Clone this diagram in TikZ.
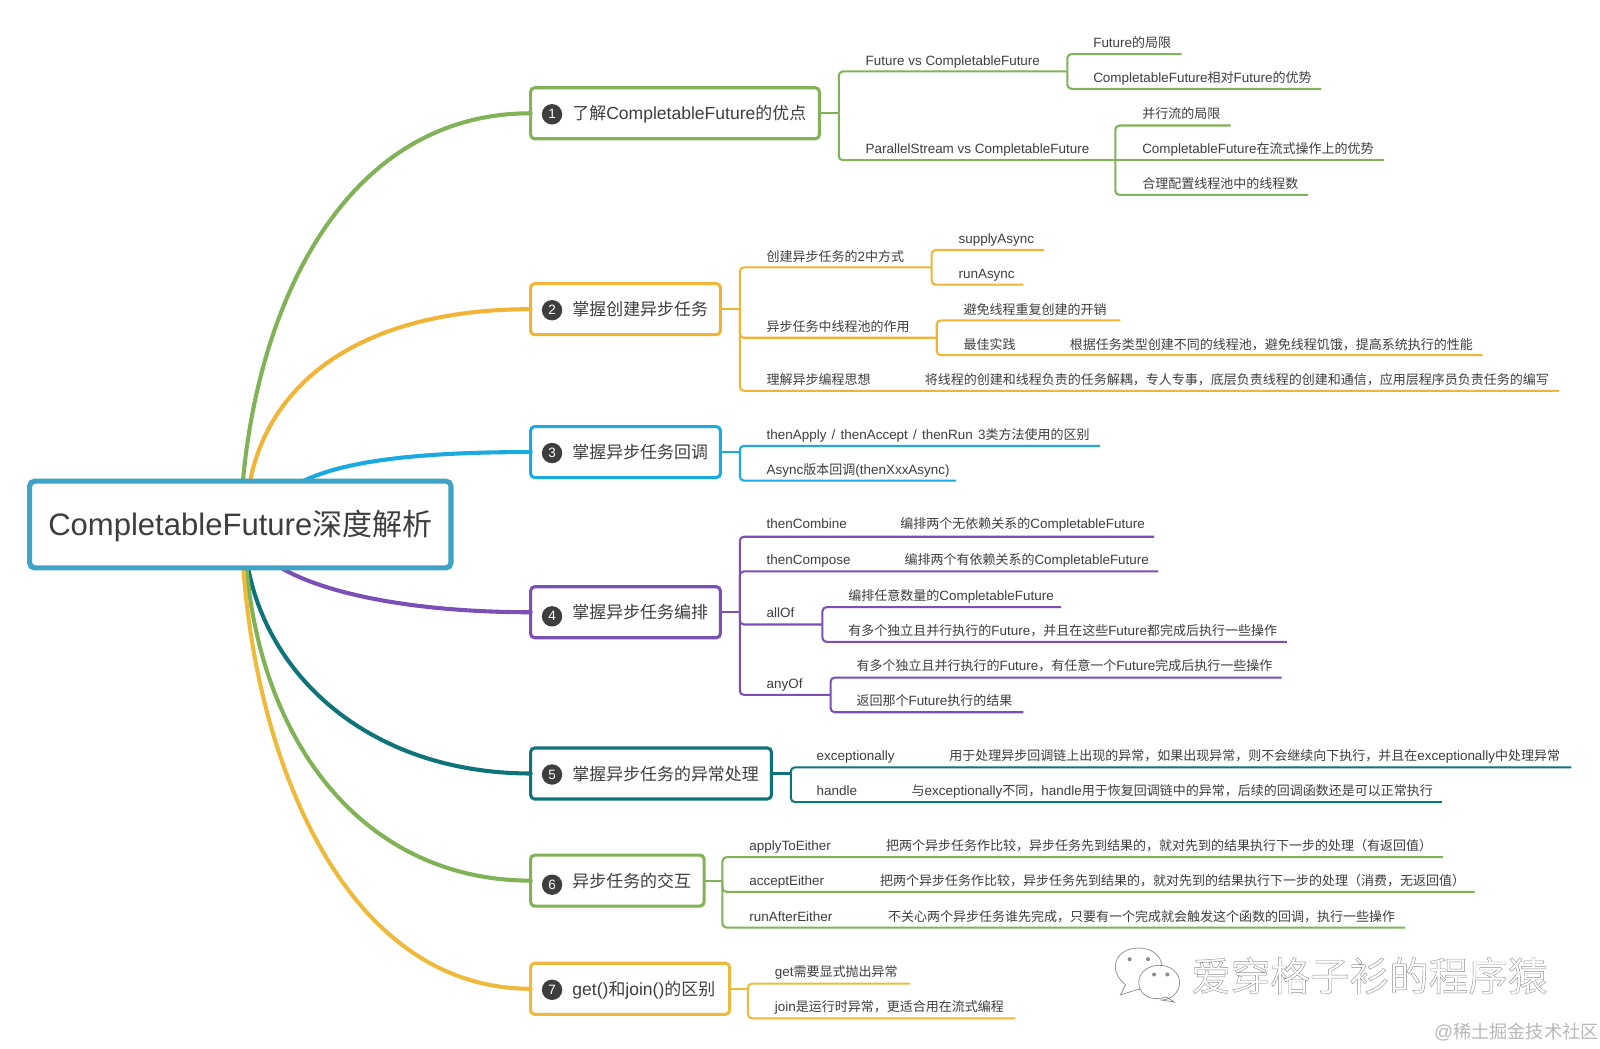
\documentclass[tikz,border=0pt]{standalone}
\usepackage{fontspec}
\setmainfont[Scale=1.035]{Liberation Sans}
\newfontfamily\cjk{Noto Sans CJK SC}
\newcount\cjkc
\XeTeXinterchartokenstate=1
\newXeTeXintercharclass\cjkclass
\cjkc="4E00 \loop\ifnum\cjkc<"A000 \XeTeXcharclass\cjkc=\cjkclass \advance\cjkc by 1 \repeat
\cjkc="3000 \loop\ifnum\cjkc<"3040 \XeTeXcharclass\cjkc=\cjkclass \advance\cjkc by 1 \repeat
\cjkc="FF00 \loop\ifnum\cjkc<"FFF0 \XeTeXcharclass\cjkc=\cjkclass \advance\cjkc by 1 \repeat
\XeTeXinterchartoks 0 \cjkclass={\cjk}
\XeTeXinterchartoks 4095 \cjkclass={\cjk}
\XeTeXinterchartoks \cjkclass 0={\rmfamily}
\XeTeXinterchartoks 4095 0={\rmfamily}
\definecolor{gr}{HTML}{82B257}
\definecolor{org}{HTML}{F1B437}
\definecolor{bl}{HTML}{1AA9E1}
\definecolor{pu}{HTML}{7A4FB6}
\definecolor{te}{HTML}{0F7479}
\definecolor{ye}{HTML}{EFB93B}
\definecolor{ink}{HTML}{3E3E3E}
\definecolor{rootc}{HTML}{3FA3C8}
\tikzset{
  rootbox/.style={draw=rootc,line width=2.5pt,rounded corners=2.5pt,fill=white,minimum width=206.5pt,minimum height=42.5pt,inner sep=0pt,text=ink,font=\fontsize{14.7}{17}\selectfont},
  topicbox/.style={draw=#1,line width=1.5pt,rounded corners=2pt,fill=white,minimum height=25pt,inner xsep=0pt,inner ysep=0pt,outer sep=0pt,anchor=west,align=left,text=ink,font=\fontsize{8.3}{10}\selectfont},
  numdot/.style={circle,fill=ink,minimum size=10pt,inner sep=0pt,text=white,font=\fontsize{6.4}{7}\selectfont},
  leaf/.style={anchor=base west,inner sep=0pt,yshift=-2.7pt,text=ink,font=\fontsize{6.37}{8}\selectfont},
  curve/.style={draw=#1,line width=2pt,line cap=round},
  trunk/.style={draw=#1,line width=1pt,rounded corners=2pt},
  wmark/.style={draw=black!45,line width=0.35pt,fill=white}
}
\newcommand\topichead[1]{\hspace*{20.5pt}\raisebox{-3.2pt}[0pt][0pt]{#1}}
\begin{document}
\begin{tikzpicture}[x=0.5pt,y=-0.5pt]
\useasboundingbox[fill=white] (0,0) rectangle (1568,1028);
% root and topics
\coordinate (r1) at (238,472);
\coordinate (r2) at (245,472);
\coordinate (r3) at (296,472);
\coordinate (r4) at (274.5,556);
\coordinate (r5) at (243,556);
\coordinate (r6) at (241.5,556);
\coordinate (r7) at (238.5,556);
\node[topicbox=gr,text width=141.5pt] (t1) at (520,111) {\topichead{了解CompletableFuture的优点}};
\node[topicbox=org,text width=93pt] (t2) at (520,303) {\topichead{掌握创建异步任务}};
\node[topicbox=bl,text width=93pt] (t3) at (520,443) {\topichead{掌握异步任务回调}};
\node[topicbox=pu,text width=93pt] (t4) at (520,600) {\topichead{掌握异步任务编排}};
\node[topicbox=te,text width=118pt] (t5) at (520,758) {\topichead{掌握异步任务的异常处理}};
\node[topicbox=gr,text width=85pt] (t6) at (520,863) {\topichead{异步任务的交互}};
\node[topicbox=ye,text width=97.5pt] (t7) at (520,969) {\topichead{get()和join()的区别}};
\node[numdot] (n1) at (541,112) {1};
\node[numdot] (n2) at (541,304) {2};
\node[numdot] (n3) at (541,444) {3};
\node[numdot] (n4) at (541,604) {4};
\node[numdot] (n5) at (541,759) {5};
\node[numdot] (n6) at (541,867) {6};
\node[numdot] (n7) at (541,970) {7};
\draw[curve=gr] (r1) .. controls (255,285) and (345,111) .. (t1.west);
\draw[curve=org] (r2) .. controls (265,370) and (360,303) .. (t2.west);
\draw[curve=bl] (r3) .. controls (340,450) and (420,443) .. (t3.west);
\draw[curve=pu] (r4) .. controls (320,583) and (410,600) .. (t4.west);
\draw[curve=te] (r5) .. controls (265,670) and (370,758) .. (t5.west);
\draw[curve=gr] (r6) .. controls (258,740) and (365,863) .. (t6.west);
\draw[curve=ye] (r7) .. controls (252,750) and (340,969) .. (t7.west);
\node[rootbox] (root) at (235.5,514) {\raisebox{-5.5pt}[0pt][0pt]{CompletableFuture深度解析}};
% topic 1
\coordinate (j1) at (822,111);
\coordinate (e1a) at (1046,70);
\coordinate (e1b) at (1093,157);
\coordinate (e1a1) at (1158,53);
\coordinate (e1a2) at (1295,87);
\coordinate (e1b1) at (1206,123);
\coordinate (e1b2) at (1356,157);
\coordinate (e1b3) at (1282,191);
\draw[trunk=gr] (t1.east) -- (j1);
\draw[trunk=gr] (j1) |- (e1a);
\draw[trunk=gr] (j1) |- (e1b);
\draw[trunk=gr] (e1a) |- (e1a1);
\draw[trunk=gr] (e1a) |- (e1a2);
\draw[trunk=gr] (e1b) |- (e1b1);
\draw[trunk=gr] (e1b) -- (e1b2);
\draw[trunk=gr] (e1b) |- (e1b3);
\node[leaf] (l1a) at (848,59) {Future vs CompletableFuture};
\node[leaf] (l1b) at (848,145) {ParallelStream vs CompletableFuture};
\node[leaf] (l1a1) at (1071,41) {Future的局限};
\node[leaf] (l1a2) at (1071,75) {CompletableFuture相对Future的优势};
\node[leaf] (l1b1) at (1119,111) {并行流的局限};
\node[leaf] (l1b2) at (1119,145) {CompletableFuture在流式操作上的优势};
\node[leaf] (l1b3) at (1119,179) {合理配置线程池中的线程数};
% topic 2
\coordinate (j2) at (725,303);
\coordinate (e2a) at (913,262);
\coordinate (e2b) at (918,331);
\coordinate (e2c) at (1528,383);
\coordinate (e2a1) at (1023,245);
\coordinate (e2a2) at (1003,279);
\coordinate (e2b1) at (1098,314);
\coordinate (e2b2) at (1453,348);
\draw[trunk=org] (t2.east) -- (j2);
\draw[trunk=org] (j2) |- (e2a);
\draw[trunk=org] (j2) |- (e2b);
\draw[trunk=org] (j2) |- (e2c);
\draw[trunk=org] (e2a) |- (e2a1);
\draw[trunk=org] (e2a) |- (e2a2);
\draw[trunk=org] (e2b) |- (e2b1);
\draw[trunk=org] (e2b) |- (e2b2);
\node[leaf] (l2a) at (751,251) {创建异步任务的2中方式};
\node[leaf] (l2b) at (751,319) {异步任务中线程池的作用};
\node[leaf] (l2c) at (751,371) {理解异步编程思想};
\node[leaf] (l2c1) at (906,371) {将线程的创建和线程负责的任务解耦，专人专事，底层负责线程的创建和通信，应用层程序员负责任务的编写};
\node[leaf] (l2a1) at (939,233) {supplyAsync};
\node[leaf] (l2a2) at (939,268) {runAsync};
\node[leaf] (l2b1) at (944,303) {避免线程重复创建的开销};
\node[leaf] (l2b2) at (944,337) {最佳实践};
\node[leaf] (l2b3) at (1048,337) {根据任务类型创建不同的线程池，避免线程饥饿，提高系统执行的性能};
% topic 3
\coordinate (j3) at (725,443);
\coordinate (e3a) at (1078,437);
\coordinate (e3b) at (937,471);
\draw[trunk=bl] (t3.east) -- (j3);
\draw[trunk=bl] (j3) |- (e3a);
\draw[trunk=bl] (j3) |- (e3b);
\node[leaf] (l3a) at (751,425) {thenApply\hspace{0.7pt} / \hspace{0.7pt}thenAccept\hspace{0.7pt} / \hspace{0.7pt}thenRun\hspace{0.7pt} 3类方法使用的区别};
\node[leaf] (l3b) at (751,460) {Async版本回调(thenXxxAsync)};
% topic 4
\coordinate (j4) at (725,600);
\coordinate (e4a) at (1131,526);
\coordinate (e4b) at (1135,560);
\coordinate (e4c) at (806,612);
\coordinate (e4d) at (814,681);
\coordinate (e4c1) at (1040,595);
\coordinate (e4c2) at (1261,629);
\coordinate (e4d1) at (1256,664);
\coordinate (e4d2) at (1003,698);
\draw[trunk=pu] (t4.east) -- (j4);
\draw[trunk=pu] (j4) |- (e4a);
\draw[trunk=pu] (j4) |- (e4b);
\draw[trunk=pu] (j4) |- (e4c);
\draw[trunk=pu] (j4) |- (e4d);
\draw[trunk=pu] (e4c) |- (e4c1);
\draw[trunk=pu] (e4c) |- (e4c2);
\draw[trunk=pu] (e4d) |- (e4d1);
\draw[trunk=pu] (e4d) |- (e4d2);
\node[leaf] (l4a) at (751,513) {thenCombine};
\node[leaf] (l4a1) at (882,513) {编排两个无依赖关系的CompletableFuture};
\node[leaf] (l4b) at (751,548) {thenCompose};
\node[leaf] (l4b1) at (886,548) {编排两个有依赖关系的CompletableFuture};
\node[leaf] (l4c) at (751,600) {allOf};
\node[leaf] (l4d) at (751,669) {anyOf};
\node[leaf] (l4c1) at (831,583) {编排任意数量的CompletableFuture};
\node[leaf] (l4c2) at (831,617) {有多个独立且并行执行的Future，并且在这些Future都完成后执行一些操作};
\node[leaf] (l4d1) at (839,652) {有多个独立且并行执行的Future，有任意一个Future完成后执行一些操作};
\node[leaf] (l4d2) at (839,686) {返回那个Future执行的结果};
% topic 5
\coordinate (j5) at (775,758);
\coordinate (e5a) at (1540,752);
\coordinate (e5b) at (1413,786);
\draw[trunk=te] (t5.east) -- (j5);
\draw[trunk=te] (j5) |- (e5a);
\draw[trunk=te] (j5) |- (e5b);
\node[leaf] (l5a) at (800,740) {exceptionally};
\node[leaf] (l5a1) at (930,740) {用于处理异步回调链上出现的异常，如果出现异常，则不会继续向下执行，并且在exceptionally中处理异常};
\node[leaf] (l5b) at (800,774) {handle};
\node[leaf] (l5b1) at (893,774) {与exceptionally不同，handle用于恢复回调链中的异常，后续的回调函数还是可以正常执行};
% topic 6
\coordinate (j6) at (708,863);
\coordinate (e6a) at (1414,840);
\coordinate (e6b) at (1445,874);
\coordinate (e6c) at (1377,909);
\draw[trunk=gr] (t6.east) -- (j6);
\draw[trunk=gr] (j6) |- (e6a);
\draw[trunk=gr] (j6) |- (e6b);
\draw[trunk=gr] (j6) |- (e6c);
\node[leaf] (l6a) at (734,828) {applyToEither};
\node[leaf] (l6a1) at (868,828) {把两个异步任务作比较，异步任务先到结果的，就对先到的结果执行下一步的处理（有返回值）};
\node[leaf] (l6b) at (734,862) {acceptEither};
\node[leaf] (l6b1) at (862,862) {把两个异步任务作比较，异步任务先到结果的，就对先到的结果执行下一步的处理（消费，无返回值）};
\node[leaf] (l6c) at (734,898) {runAfterEither};
\node[leaf] (l6c1) at (870,898) {不关心两个异步任务谁先完成，只要有一个完成就会触发这个函数的回调，执行一些操作};
% topic 7
\coordinate (j7) at (733,969);
\coordinate (e7a) at (892,964);
\coordinate (e7b) at (995,998);
\draw[trunk=ye] (t7.east) -- (j7);
\draw[trunk=ye] (j7) |- (e7a);
\draw[trunk=ye] (j7) |- (e7b);
\node[leaf] (l7a) at (759,952) {get需要显式抛出异常};
\node[leaf] (l7b) at (759,986) {join是运行时异常，更适合用在流式编程};
% watermark
\draw[wmark] (1103,965) .. controls (1094,958) and (1093,950) .. (1093,948) .. controls (1093,936) and (1103,929) .. (1116,929) .. controls (1129,929) and (1139,937) .. (1139,949) .. controls (1139,961) and (1127,969) .. (1114,970) -- (1098,975) -- cycle;
\draw[wmark] (1116,963) .. controls (1116,953) and (1125,946) .. (1136,946) .. controls (1147,946) and (1156,953) .. (1156,963) .. controls (1156,973) and (1147,980) .. (1138,980) -- (1151,982) -- (1143,977) .. controls (1128,982) and (1116,975) .. (1116,963) -- cycle;
\fill[black!45] (1107,940) circle (1pt) (1125,940) circle (1pt) (1131,955) circle (1pt) (1144,955) circle (1pt);
\node[anchor=base west,inner sep=0pt,text=black!45,font=\fontsize{19.4}{22}\selectfont] (wm) at (1167,971) {\special{pdf:code q 1 Tr 0.2 w 0.55 G}爱穿格子衫的程序猿\special{pdf:code Q}};
\node[anchor=base west,inner sep=0pt,text=black!28,font=\fontsize{8.9}{11}\selectfont] (wm2) at (1405,1018) {@稀土掘金技术社区};
\end{tikzpicture}
\end{document}
